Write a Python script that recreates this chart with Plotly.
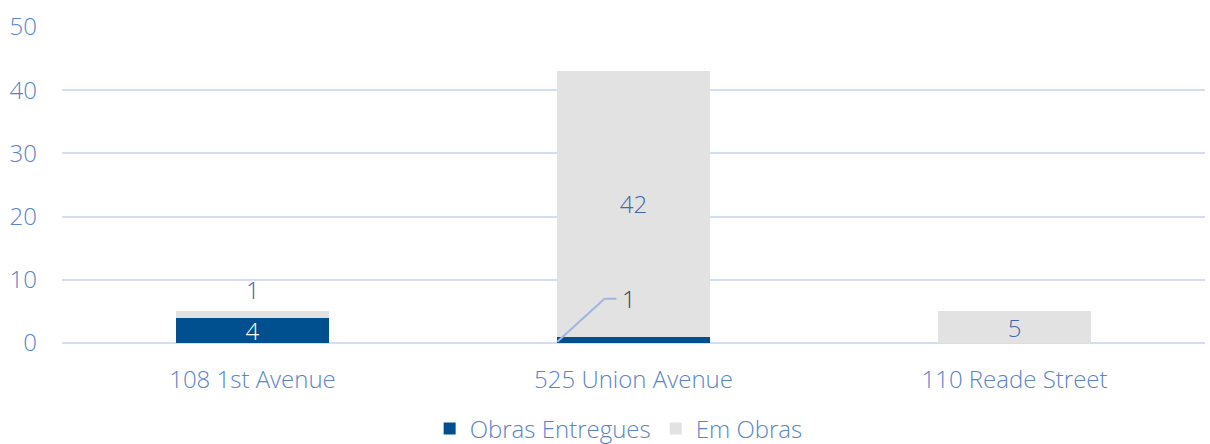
import plotly.graph_objects as go

categories = ["108 1st Avenue", "525 Union Avenue", "110 Reade Street"]
entregues = [4, 1, 0]
em_obras = [1, 42, 5]
series_names = ["Obras Entregues", "Em Obras"]
y_ticks = [0, 10, 20, 30, 40, 50]

FONT = "Open Sans, Noto Sans, sans-serif"
FS = 24
TICK_COLOR = "#5a84cc"
LABEL_COLOR = "#4466a8"
BLUE = "#00508f"
GREY = "#e2e2e2"
GRID = "#d3def2"

fig = go.Figure()

ent_text = [str(v) if (i == 0) else "" for i, v in enumerate(entregues)]
fig.add_trace(go.Bar(
    x=categories, y=entregues, name=series_names[0],
    marker=dict(color=BLUE, line=dict(width=0)),
    text=ent_text, textposition="inside", insidetextanchor="middle", textangle=0,
    constraintext="none",
    textfont=dict(family=FONT, size=FS, color="white", weight=300),
    hoverinfo="skip", cliponaxis=False,
))

obras_text = ["", str(em_obras[1]), str(em_obras[2])]
fig.add_trace(go.Bar(
    x=categories, y=em_obras, name=series_names[1],
    marker=dict(color=GREY, line=dict(width=0)),
    text=obras_text, textposition="inside", insidetextanchor="middle", textangle=0,
    constraintext="none",
    textfont=dict(family=FONT, size=FS, color=LABEL_COLOR, weight=300),
    hoverinfo="skip", cliponaxis=False,
))

annotations = []
annotations.append(dict(
    x=categories[0], y=entregues[0] + em_obras[0], xref="x", yref="y",
    text=str(em_obras[0]), showarrow=False, yanchor="bottom", yshift=3,
    font=dict(family=FONT, size=FS, color=LABEL_COLOR, weight=300),
))
lbl_y = 7.0
annotations.append(dict(
    x=1 - 0.035, y=lbl_y, xref="x", yref="y",
    text=str(entregues[1]), showarrow=False, xanchor="left",
    font=dict(family=FONT, size=FS, color="#38445c", weight=300),
))

shapes = [
    dict(type="line", xref="x", yref="y", x0=1 - 0.2, y0=entregues[1] * 0.2,
         x1=1 - 0.076, y1=lbl_y, line=dict(color="#9fb5e2", width=2)),
    dict(type="line", xref="x", yref="y", x0=1 - 0.076, y0=lbl_y,
         x1=1 - 0.045, y1=lbl_y, line=dict(color="#9fb5e2", width=2)),
]

fig.update_layout(
    barmode="stack",
    bargap=0.6,
    width=1210, height=444,
    margin=dict(l=62, r=5, t=27, b=101, autoexpand=False),
    paper_bgcolor="white", plot_bgcolor="white",
    font=dict(family=FONT, size=FS, color=TICK_COLOR, weight=300),
    showlegend=True,
    legend=dict(orientation="h", x=0.487, xanchor="center", y=-0.272, yanchor="middle",
                font=dict(family=FONT, size=FS, color=TICK_COLOR, weight=300),
                itemwidth=30, traceorder="normal", tracegroupgap=0),
    annotations=annotations,
    shapes=shapes,
)
fig.update_xaxes(showgrid=False, showline=False, ticks="", ticklabelstandoff=20,
                 tickfont=dict(family=FONT, size=FS, color=TICK_COLOR, weight=300))
fig.update_yaxes(range=[0, 50], tickvals=y_ticks, showgrid=True, gridcolor=GRID,
                 gridwidth=2, zeroline=True, zerolinecolor=GRID, zerolinewidth=2,
                 ticks="", ticklabelstandoff=24,
                 tickfont=dict(family=FONT, size=FS, color=TICK_COLOR, weight=300))

fig.write_html("out.html")
